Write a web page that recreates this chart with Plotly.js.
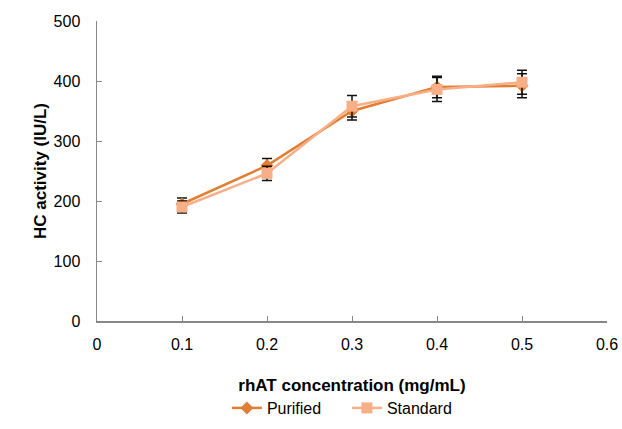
<!DOCTYPE html>
<html><head><meta charset="utf-8">
<script src="https://cdn.plot.ly/plotly-3.0.1.min.js"></script>
<style>html,body{margin:0;padding:0;background:#fff}#chart{width:622px;height:429px}</style>
</head><body><div id="chart"></div>
<script>
const concentrations = [0.1, 0.2, 0.3, 0.4, 0.5];
const purified = [195, 259, 350, 390, 392];
const purifiedErr = [10, 12, 15, 18, 20];
const standard = [190, 246, 358, 386, 398];
const standardErr = [10, 12, 18, 20, 20];
const xTicks = [0, 0.1, 0.2, 0.3, 0.4, 0.5, 0.6];
const yTicks = [0, 100, 200, 300, 400, 500];

const FONT = 'Liberation Sans, Arial, sans-serif';
const traces = [
  {x: concentrations, y: purified, name: 'Purified', type: 'scatter', mode: 'lines+markers',
   line: {color: '#E07F33', width: 2.5}, marker: {symbol: 'diamond', size: 10, color: '#E07F33'},
   error_y: {type: 'data', array: purifiedErr, visible: true, color: '#111', thickness: 1.5, width: 5}},
  {x: concentrations, y: standard, name: 'Standard', type: 'scatter', mode: 'lines+markers',
   line: {color: '#F8AE86', width: 2.5}, marker: {symbol: 'square', size: 11, color: '#F8AE86'},
   error_y: {type: 'data', array: standardErr, visible: true, color: '#111', thickness: 1.5, width: 5}}
];
const layout = {
  width: 622, height: 429,
  margin: {l: 97, r: 15, t: 21, b: 108, autoexpand: false},
  paper_bgcolor: '#fff', plot_bgcolor: '#fff',
  font: {family: FONT, color: '#000', size: 16},
  showlegend: true,
  legend: {orientation: 'h', x: 0.49, xanchor: 'center', y: -0.29, yanchor: 'middle', font: {size: 16},
    entrywidth: 75},
  xaxis: {range: [0, 0.6], tickvals: xTicks, ticktext: xTicks.map(String), showgrid: false, zeroline: false,
    showline: true, linecolor: '#888', linewidth: 1.5, ticks: 'inside', ticklen: 5, tickcolor: '#888',
    tickfont: {size: 16}, ticklabelstandoff: 8, fixedrange: true,
    title: {text: '<b>rhAT concentration (mg/mL)</b>', font: {size: 17}, standoff: 27}},
  yaxis: {range: [0, 500], tickvals: yTicks, showgrid: false, zeroline: false,
    showline: true, linecolor: '#888', linewidth: 1.5, ticks: 'inside', ticklen: 5, tickcolor: '#888',
    tickfont: {size: 16}, ticklabelstandoff: 12, fixedrange: true,
    title: {text: '<b>HC activity (IU/L)</b>', font: {size: 17}, standoff: 2}}
};
Plotly.newPlot('chart', traces, layout, {displayModeBar: false, staticPlot: true});
</script></body></html>
